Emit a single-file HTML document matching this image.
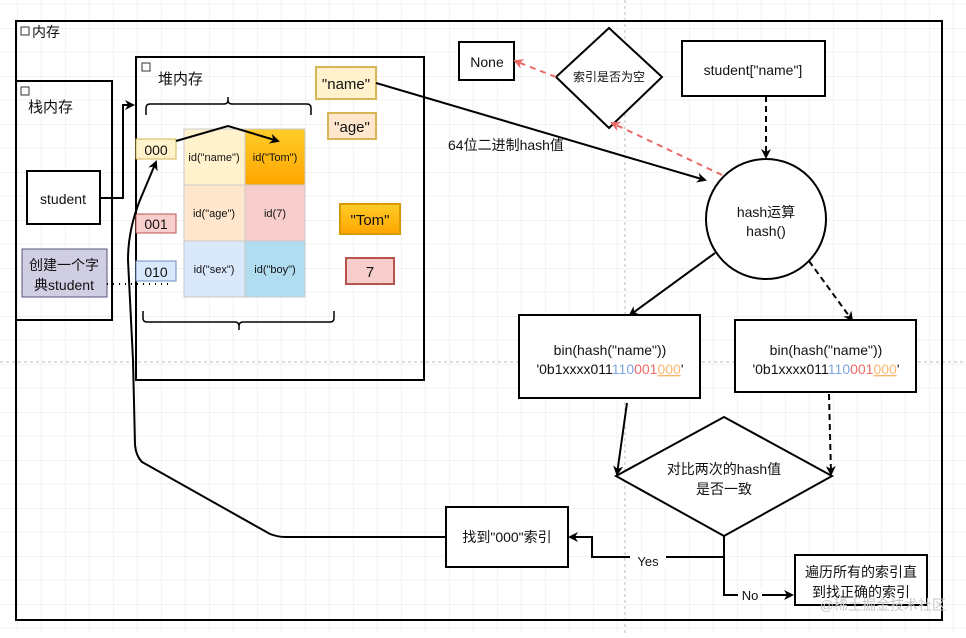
<!DOCTYPE html>
<html><head><meta charset="utf-8"><style>
html,body{margin:0;padding:0;background:#fff}
svg text{font-family:"Liberation Sans","Noto Sans CJK SC",sans-serif;fill:#111}
</style></head><body>
<svg width="966" height="633" viewBox="0 0 966 633" xmlns="http://www.w3.org/2000/svg">
<defs>
<pattern id="g" x="17" y="28" width="48" height="48" patternUnits="userSpaceOnUse">
<path d="M0 0H48M0 0V48" stroke="#e4e4e4" stroke-width="1" fill="none"/>
<path d="M24 0V48M0 24H48" stroke="#f2f2f2" stroke-width="1" fill="none"/>
</pattern>
<linearGradient id="og" x1="0" y1="0" x2="0" y2="1"><stop offset="0" stop-color="#ffcd28"/><stop offset="1" stop-color="#ffa500"/></linearGradient>
<marker id="a" markerWidth="10" markerHeight="10" refX="8" refY="5" orient="auto" markerUnits="userSpaceOnUse"><path d="M0 0L10 5L0 10L3 5z" fill="#000"/></marker>
<marker id="r" markerWidth="10" markerHeight="10" refX="8" refY="5" orient="auto" markerUnits="userSpaceOnUse"><path d="M0 0L10 5L0 10L3 5z" fill="#ea6b66"/></marker>
</defs>
<rect width="966" height="633" fill="url(#g)"/>
<line x1="0" y1="362" x2="966" y2="362" stroke="#bbb" stroke-dasharray="3,3"/>
<line x1="625" y1="0" x2="625" y2="633" stroke="#bbb" stroke-dasharray="3,3"/>
<g fill="none" stroke="#000" stroke-width="2">
<rect x="16" y="21" width="926" height="599"/>
<rect x="16" y="81" width="96" height="239"/>
<rect x="136" y="57" width="288" height="323"/>
<rect x="27" y="171" width="73" height="53" fill="#fff"/>
</g>
<g font-size="9" fill="none" stroke="#333"><rect x="21" y="27" width="8" height="8"/><rect x="21" y="87" width="8" height="8"/><rect x="142" y="63" width="8" height="8"/></g>
<text x="32" y="37" font-size="14">内存</text>
<text x="28" y="112" font-size="15">栈内存</text>
<text x="158" y="84" font-size="15">堆内存</text>
<text x="63" y="204" font-size="14" text-anchor="middle">student</text>
<rect x="22" y="249" width="85" height="48" fill="#d0cee2" stroke="#56517e"/>
<text x="64" y="270" font-size="14" text-anchor="middle">创建一个字</text>
<text x="64" y="290" font-size="14" text-anchor="middle">典student</text>
<line x1="107" y1="284" x2="172" y2="284" stroke="#000" stroke-width="2" stroke-dasharray="1,5"/>
<!-- index boxes -->
<rect x="136" y="139" width="40" height="20" fill="#fff2cc" stroke="#d6b656"/><text x="156" y="155" font-size="14" text-anchor="middle">000</text>
<rect x="136" y="214" width="40" height="19" fill="#f8cecc" stroke="#b85450"/><text x="156" y="229" font-size="14" text-anchor="middle">001</text>
<rect x="136" y="261" width="40" height="20" fill="#dae8fc" stroke="#6c8ebf"/><text x="156" y="277" font-size="14" text-anchor="middle">010</text>
<!-- cells -->
<g stroke="#c9c9c9">
<rect x="184" y="129" width="61" height="56" fill="#fff2cc"/>
<rect x="245" y="129" width="60" height="56" fill="url(#og)"/>
<rect x="184" y="185" width="61" height="56" fill="#ffe6cc"/>
<rect x="245" y="185" width="60" height="56" fill="#f8cecc"/>
<rect x="184" y="241" width="61" height="56" fill="#dae8fc"/>
<rect x="245" y="241" width="60" height="56" fill="#b1ddf0"/>
</g>
<g font-size="11" text-anchor="middle">
<text x="214" y="161">id("name")</text><text x="275" y="161">id("Tom")</text>
<text x="214" y="217">id("age")</text><text x="275" y="217">id(7)</text>
<text x="214" y="273">id("sex")</text><text x="275" y="273">id("boy")</text>
</g>
<g fill="none" stroke="#000" stroke-width="1.5">
<path d="M146 115V108Q146 104 150 104H224Q228 104 228 100V97M228 97V100Q228 104 232 104H307Q311 104 311 108V115"/>
<path d="M143 311V318Q143 322 147 322H235Q239 322 239 326V330M239 330V326Q239 322 243 322H330Q334 322 334 318V311"/>
</g>
<!-- values -->
<rect x="316" y="67" width="60" height="32" fill="#fff2cc" stroke="#d6b656" stroke-width="2"/><text x="346" y="89" font-size="15" text-anchor="middle">"name"</text>
<rect x="328" y="113" width="48" height="26" fill="#ffe6cc" stroke="#d6b656" stroke-width="2"/><text x="352" y="132" font-size="15" text-anchor="middle">"age"</text>
<rect x="340" y="204" width="60" height="30" fill="url(#og)" stroke="#d79b00" stroke-width="2"/><text x="370" y="225" font-size="15" text-anchor="middle">"Tom"</text>
<rect x="346" y="258" width="48" height="26" fill="#f8cecc" stroke="#b85450" stroke-width="2"/><text x="370" y="277" font-size="15" text-anchor="middle">7</text>
<!-- connectors left -->
<g fill="none" stroke="#000" stroke-width="2">
<path d="M100 198H123V105H133" marker-end="url(#a)"/>
<path d="M176 141L228 126L278 141" marker-end="url(#a)"/>
<path d="M446 537H285Q278 537 270 534L142 462Q136 456 135 445L133 360L128 260Q128 230 140 200L156 162" marker-end="url(#a)"/>
<path d="M376 83L705 180" marker-end="url(#a)"/>
</g>
<text x="448" y="150" font-size="14">64位二进制hash值</text>
<!-- right top -->
<rect x="459" y="42" width="55" height="38" fill="#fff" stroke="#000" stroke-width="2"/><text x="487" y="67" font-size="14" text-anchor="middle">None</text>
<path d="M609 28L662 77L609 128L556 77Z" fill="#fff" stroke="#000" stroke-width="2"/><text x="609" y="81" font-size="12" text-anchor="middle">索引是否为空</text>
<g fill="none" stroke="#ea6b66" stroke-width="2" stroke-dasharray="6,5">
<path d="M556 77L515 61" marker-end="url(#r)"/>
<path d="M722 175L612 123" marker-end="url(#r)"/>
</g>
<rect x="682" y="41" width="143" height="55" fill="#fff" stroke="#000" stroke-width="2"/><text x="753" y="75" font-size="14" text-anchor="middle">student["name"]</text>
<path d="M766 96V157" stroke="#000" stroke-width="2" stroke-dasharray="6,4" marker-end="url(#a)"/>
<circle cx="766" cy="219" r="60" fill="#fff" stroke="#000" stroke-width="2"/>
<text x="766" y="217" font-size="14" text-anchor="middle">hash运算</text><text x="766" y="236" font-size="14" text-anchor="middle">hash()</text>
<path d="M715 253L630 315" stroke="#000" stroke-width="2" fill="none" marker-end="url(#a)"/>
<path d="M809 261L852 320" stroke="#000" stroke-width="2" stroke-dasharray="6,4" fill="none" marker-end="url(#a)"/>
<!-- bin boxes -->
<rect x="519" y="315" width="181" height="83" fill="#fff" stroke="#000" stroke-width="2"/>
<rect x="735" y="320" width="181" height="72" fill="#fff" stroke="#000" stroke-width="2"/>
<g font-size="14" text-anchor="middle">
<text x="610" y="355">bin(hash("name"))</text>
<text x="610" y="374">'0b1xxxx011<tspan fill="#7ea6e0">110</tspan><tspan fill="#ea6b66">001</tspan><tspan fill="#ffb570" text-decoration="underline">000</tspan>'</text>
<text x="826" y="355">bin(hash("name"))</text>
<text x="826" y="374">'0b1xxxx011<tspan fill="#7ea6e0">110</tspan><tspan fill="#ea6b66">001</tspan><tspan fill="#ffb570" text-decoration="underline">000</tspan>'</text>
</g>
<path d="M627 403L617 474" stroke="#000" stroke-width="2" fill="none" marker-end="url(#a)"/>
<path d="M829 394L831 474" stroke="#000" stroke-width="2" stroke-dasharray="6,4" fill="none" marker-end="url(#a)"/>
<path d="M724 417L832 476L724 536L616 476Z" fill="#fff" stroke="#000" stroke-width="2"/>
<text x="724" y="474" font-size="14" text-anchor="middle">对比两次的hash值</text><text x="724" y="494" font-size="14" text-anchor="middle">是否一致</text>
<g fill="none" stroke="#000" stroke-width="2">
<path d="M724 536V557H592V537H570" marker-end="url(#a)"/>
<path d="M724 536V595H792" marker-end="url(#a)"/>
</g>
<rect x="630" y="552" width="36" height="16" fill="#fff"/><text x="648" y="566" font-size="13" text-anchor="middle">Yes</text>
<rect x="738" y="587" width="24" height="16" fill="#fff"/><text x="750" y="600" font-size="13" text-anchor="middle">No</text>
<rect x="446" y="507" width="122" height="60" fill="#fff" stroke="#000" stroke-width="2"/><text x="507" y="542" font-size="14" text-anchor="middle">找到"000"索引</text>
<rect x="795" y="555" width="132" height="50" fill="#fff" stroke="#000" stroke-width="2"/>
<text x="861" y="577" font-size="14" text-anchor="middle">遍历所有的索引直</text><text x="861" y="597" font-size="14" text-anchor="middle">到找正确的索引</text>
<text x="946" y="610" font-size="14" text-anchor="end" fill="#ccc" style="fill:#c8c8c8">@稀土掘金技术社区</text>
</svg>
</body></html>
